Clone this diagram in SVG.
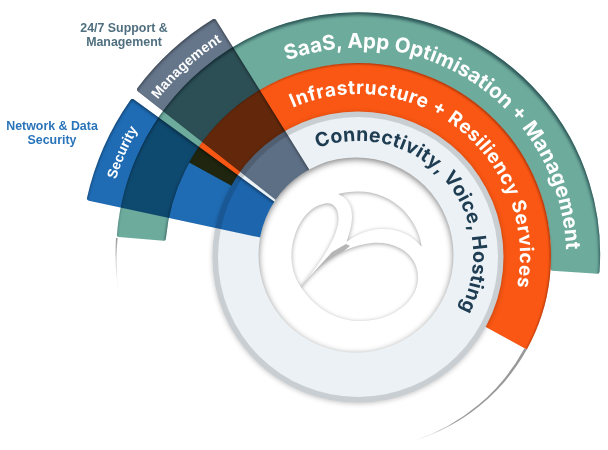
<svg xmlns="http://www.w3.org/2000/svg" xmlns:xlink="http://www.w3.org/1999/xlink" width="608" height="450" viewBox="0 0 608 450">
<style>
text{font-family:"Liberation Sans",Arial,sans-serif;font-weight:700}
.curve{fill:#fff}
.wide{font-family:Inter,"Liberation Sans",Arial,sans-serif;font-weight:700}
.mult{mix-blend-mode:multiply;stroke-linejoin:round;stroke-width:5}
.side{font-size:12.4px;text-anchor:middle}
</style>
<defs>
<filter id="isTeal" filterUnits="userSpaceOnUse" x="0" y="0" width="608" height="450" color-interpolation-filters="sRGB">
<feFlood flood-color="#1f4448" flood-opacity=".8" result="f"/><feOffset in="SourceAlpha" dx="-1" dy="2.5" result="o"/><feComposite in="f" in2="o" operator="out" result="i"/><feGaussianBlur in="i" stdDeviation="1.6" result="b"/><feComposite in="b" in2="SourceAlpha" operator="in" result="s"/><feMerge><feMergeNode in="SourceGraphic"/><feMergeNode in="s"/></feMerge>
</filter>
<filter id="isOrange" filterUnits="userSpaceOnUse" x="0" y="0" width="608" height="450" color-interpolation-filters="sRGB">
<feFlood flood-color="#501000" flood-opacity=".5" result="f"/><feOffset in="SourceAlpha" dx="-1.5" dy=".5" result="o"/><feComposite in="f" in2="o" operator="out" result="i"/><feGaussianBlur in="i" stdDeviation="1" result="b"/><feComposite in="b" in2="SourceAlpha" operator="in" result="s"/><feMerge><feMergeNode in="SourceGraphic"/><feMergeNode in="s"/></feMerge>
</filter>
<filter id="isWedge" filterUnits="userSpaceOnUse" x="0" y="0" width="608" height="450" color-interpolation-filters="sRGB">
<feFlood flood-color="#000" flood-opacity=".4" result="f"/><feOffset in="SourceAlpha" dx="0" dy="2" result="o"/><feComposite in="f" in2="o" operator="out" result="i"/><feGaussianBlur in="i" stdDeviation="1.5" result="b"/><feComposite in="b" in2="SourceAlpha" operator="in" result="s"/><feMerge><feMergeNode in="SourceGraphic"/><feMergeNode in="s"/></feMerge>
</filter>
<filter id="isHole" filterUnits="userSpaceOnUse" x="0" y="0" width="608" height="450" color-interpolation-filters="sRGB">
<feFlood flood-color="#000" flood-opacity=".5" result="f"/><feOffset in="SourceAlpha" dx="0" dy="1.5" result="o"/><feComposite in="f" in2="o" operator="out" result="i"/><feGaussianBlur in="i" stdDeviation="3" result="b"/><feComposite in="b" in2="SourceAlpha" operator="in" result="s"/><feMerge><feMergeNode in="SourceGraphic"/><feMergeNode in="s"/></feMerge>
</filter>
<filter id="isLogo" filterUnits="userSpaceOnUse" x="0" y="0" width="608" height="450" color-interpolation-filters="sRGB">
<feFlood flood-color="#000" flood-opacity=".36" result="f"/><feOffset in="SourceAlpha" dx="0" dy="1" result="o"/><feComposite in="f" in2="o" operator="out" result="i"/><feGaussianBlur in="i" stdDeviation="2.2" result="b"/><feComposite in="b" in2="SourceAlpha" operator="in" result="s"/><feMerge><feMergeNode in="SourceGraphic"/><feMergeNode in="s"/></feMerge>
</filter>
<filter id="drop" filterUnits="userSpaceOnUse" x="0" y="0" width="608" height="450" color-interpolation-filters="sRGB">
<feDropShadow dx="0" dy="1" stdDeviation="2.5" flood-color="#000" flood-opacity=".24"/>
</filter>
<filter id="soft" x="-10%" y="-10%" width="120%" height="120%"><feGaussianBlur stdDeviation=".35"/></filter>
<filter id="ringBlur" filterUnits="userSpaceOnUse" x="200" y="100" width="320" height="320"><feGaussianBlur stdDeviation=".7"/></filter>
<filter id="gapBlur" filterUnits="userSpaceOnUse" x="280" y="190" width="160" height="110"><feGaussianBlur stdDeviation=".5"/></filter>
<linearGradient id="fadeL" x1="0" y1="0" x2="0" y2="1"><stop offset="0" stop-color="#999"/><stop offset="1" stop-color="#ccc" stop-opacity="0"/></linearGradient>
<linearGradient id="fadeR" x1="1" y1="0" x2="0" y2="1"><stop offset="0" stop-color="#999"/><stop offset=".7" stop-color="#999"/><stop offset="1" stop-color="#bbb" stop-opacity=".3"/></linearGradient>
<path id="tSaas" d="M286.9,60.5A208,208 0 0 1 553.5,327.1"/>
<path id="tInfra" d="M292.9,107.7A162,162 0 0 1 490.7,348.9"/>
<path id="tConn" d="M317.5,148.3A115,115 0 0 1 431.9,344.1"/>
<path id="tSec" d="M115.8,179.6A254,254 0 0 1 163.4,92.7"/>
<path id="tMan" d="M157.8,99.6A254,254 0 0 1 250.7,25.8"/>
</defs>

<g id="node-saas">
<path d="M116,238A242,242 0 0 0 119.3,297A242,242 0 0 1 117.6,238Z" fill="url(#fadeL)"/>
<path d="M118.9,235.1A240,240 0 0 1 597.5,271.7L552.6,268.8A195,195 0 0 0 163.8,238.7Z" fill="#6dab9c" stroke="#6dab9c" stroke-width="4" stroke-linejoin="round" filter="url(#isTeal)"/>
<text class="curve wide" font-size="20.5"><textPath xlink:href="#tSaas" href="#tSaas" textLength="393">SaaS, App Optimisation + Management</textPath></text>
</g>

<g id="node-infra">
<path d="M526.8,349.6A193,193 0 0 1 414.4,440.6A193,193 0 0 0 524.3,348.4Z" fill="url(#fadeR)" filter="url(#soft)"/>
<path d="M189.2,162.4A193,193 0 0 1 526.8,349.6L480.4,323.9A140,140 0 0 0 235.6,188.1Z" fill="#f95713" filter="url(#isOrange)"/>
<text class="curve wide" font-size="19"><textPath xlink:href="#tInfra" href="#tInfra" textLength="352">Infrastructure + Resiliency Services</textPath></text>
</g>

<g id="node-connectivity">
<circle cx="358" cy="257" r="145.5" fill="#c9ced2" filter="url(#drop)"/>
<circle cx="358" cy="257" r="140" fill="#ebf1f5" filter="url(#ringBlur)"/>
<text class="wide" font-size="19.5" fill="#1f3d52"><textPath xlink:href="#tConn" href="#tConn" textLength="278">Connectivity, Voice, Hosting</textPath></text>
</g>

<g id="node-management">
<path class="mult" d="M214.1,21.5A274,274 0 0 0 139.5,89.5L301.5,217L322.9,196.3Z" fill="#65758a" stroke="#65758a" filter="url(#isWedge)"/>
<text class="curve" font-size="14"><textPath xlink:href="#tMan" href="#tMan" textLength="87">Management</textPath></text>
<text class="side" fill="#4f6f7f"><tspan x="124" y="32">24/7 Support &amp;</tspan><tspan x="124" y="46">Management</tspan></text>
</g>

<g id="node-security">
<path class="mult" d="M132.5,101.5A272,272 0 0 0 89.5,198.3L300.5,243.6L303.5,226Z" fill="#1f6cb5" stroke="#1f6cb5" filter="url(#isWedge)"/>
<text class="curve" font-size="14"><textPath xlink:href="#tSec" href="#tSec" textLength="55">Security</textPath></text>
<text class="side" fill="#2a74ba"><tspan x="52" y="130">Network &amp; Data</tspan><tspan x="52" y="144">Security</tspan></text>
</g>

<g id="node-core">
<circle cx="356" cy="255" r="97.5" fill="#fff" filter="url(#isHole)"/>
<path d="M300.7,286.7L332,252L346,244L350,246Z" fill="#b5b5b5" filter="url(#gapBlur)"/>
<path d="M300.7,286.7C316,268 340,246 372,243C396,241 418,254 418,278C418,300 394,321 360,321C335,321 314,307 300.7,286.7Z" fill="#fff" filter="url(#isLogo)"/>
<path d="M300.7,286.7C294,277 291.5,266 291.5,256C291.5,232 305,207 325,203.5C334,202 339,209 338.5,220C338,234 325,258 300.7,286.7Z" fill="#fff" filter="url(#isLogo)"/>
<path d="M338.3,194C347,198 352,205 352,216C352,226 349,234 346.7,241.7C356,235 366,230 380,229C398,228 412,235 421.7,246.7C419,222 396,191.5 358,191.5C350,191.5 344,192.5 338.3,194Z" fill="#fff" filter="url(#isLogo)"/>
</g>
</svg>
